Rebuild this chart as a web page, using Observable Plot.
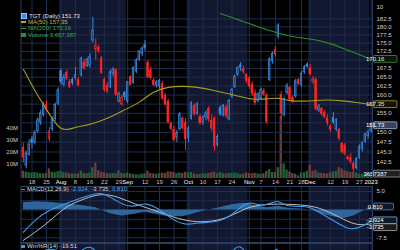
<!DOCTYPE html>
<html><head><meta charset="utf-8">
<script src="https://cdn.jsdelivr.net/npm/d3@7"></script>
<script src="https://cdn.jsdelivr.net/npm/@observablehq/plot@0.6"></script>
<style>
html,body{margin:0;padding:0;background:#000;}
#chart{position:relative;width:400px;height:250px;overflow:hidden;background:#000;font-family:"Liberation Sans",Arial,sans-serif;}
#chart > svg{position:absolute;left:0;}
.lg{position:absolute;left:21px;font-size:6px;white-space:nowrap;color:#dcdcdc;}
.row{display:flex;align-items:center;height:6.4px;gap:2px;}
</style></head><body><div id="chart"></div>
<script>
// ---------------- data ----------------
const dates = [
"2022-07-13","2022-07-14","2022-07-15","2022-07-18","2022-07-19","2022-07-20","2022-07-21","2022-07-22","2022-07-25","2022-07-26","2022-07-27","2022-07-28","2022-07-29",
"2022-08-01","2022-08-02","2022-08-03","2022-08-04","2022-08-05","2022-08-08","2022-08-09","2022-08-10","2022-08-11","2022-08-12","2022-08-15","2022-08-16","2022-08-17","2022-08-18","2022-08-19","2022-08-22","2022-08-23","2022-08-24","2022-08-25","2022-08-26","2022-08-29","2022-08-30","2022-08-31",
"2022-09-01","2022-09-02","2022-09-06","2022-09-07","2022-09-08","2022-09-09","2022-09-12","2022-09-13","2022-09-14","2022-09-15","2022-09-16","2022-09-19","2022-09-20","2022-09-21","2022-09-22","2022-09-23","2022-09-26","2022-09-27","2022-09-28","2022-09-29","2022-09-30",
"2022-10-03","2022-10-04","2022-10-05","2022-10-06","2022-10-07","2022-10-10","2022-10-11","2022-10-12","2022-10-13","2022-10-14","2022-10-17","2022-10-18","2022-10-19","2022-10-20","2022-10-21","2022-10-24","2022-10-25","2022-10-26","2022-10-27","2022-10-28","2022-10-31",
"2022-11-01","2022-11-02","2022-11-03","2022-11-04","2022-11-07","2022-11-08","2022-11-09","2022-11-10","2022-11-11","2022-11-14","2022-11-15","2022-11-16","2022-11-17","2022-11-18","2022-11-21","2022-11-22","2022-11-23","2022-11-25","2022-11-28","2022-11-29","2022-11-30",
"2022-12-01","2022-12-02","2022-12-05","2022-12-06","2022-12-07","2022-12-08","2022-12-09","2022-12-12","2022-12-13","2022-12-14","2022-12-15","2022-12-16","2022-12-19","2022-12-20","2022-12-21","2022-12-22","2022-12-23","2022-12-27","2022-12-28","2022-12-29","2022-12-30",
"2023-01-03"];

const open = [
146.0,141.6,144.3,148.2,147.4,150.3,152.6,154.6,157.2,148.3,150.8,153.5,157.6,
166.7,162.9,166.2,163.6,164.2,164.8,164.2,165.6,169.2,168.2,168.4,175.8,173.2,173.6,170.4,164.2,162.6,162.2,166.0,167.0,158.2,157.4,160.6,
158.2,165.0,163.4,166.6,170.0,171.8,174.4,169.2,167.0,164.0,162.6,162.4,163.0,159.8,158.2,152.2,150.6,148.6,150.8,153.6,152.4,
148.6,153.6,157.0,155.0,154.0,152.6,154.0,156.2,153.0,153.6,146.8,156.4,154.6,156.6,153.4,159.6,162.2,165.8,168.4,167.4,165.6,
164.6,162.8,160.4,158.4,159.0,161.0,159.8,164.2,169.6,172.9,177.0,160.0,154.6,160.6,162.0,159.2,159.6,164.2,162.8,166.4,168.6,
167.6,163.6,164.2,155.8,156.2,155.2,153.6,151.4,153.8,150.8,150.6,147.0,146.6,143.6,143.4,142.0,141.0,143.6,145.8,147.6,149.0,
150.4];
const high = [
147.2,145.2,148.0,148.9,150.4,153.8,155.8,158.0,158.4,151.2,154.0,157.8,162.0,
167.4,165.8,167.0,164.4,164.8,167.8,165.0,170.8,170.2,170.6,171.8,183.0,176.3,174.4,171.0,164.8,163.4,167.0,167.8,167.4,160.8,160.0,161.0,
163.8,165.4,168.0,170.4,172.8,173.8,175.8,169.8,168.0,164.6,164.0,164.4,163.8,160.4,158.8,152.8,151.6,150.6,155.2,154.0,153.6,
151.4,158.2,157.6,158.0,154.6,154.4,155.6,156.8,154.6,154.2,149.4,157.0,157.4,157.2,158.8,161.8,165.6,168.0,169.2,168.2,166.0,
165.2,163.6,161.4,160.6,162.0,161.8,160.4,170.6,172.4,174.0,181.0,161.0,159.4,163.2,162.4,159.8,164.4,164.6,166.6,168.4,169.2,
168.6,165.2,164.8,157.4,156.6,155.8,154.6,152.0,155.2,153.6,151.0,147.4,147.2,144.2,144.6,142.6,143.6,146.8,147.6,149.8,150.6,
152.6];
const low = [
142.3,140.8,143.9,145.8,146.8,149.8,151.8,154.0,155.2,147.6,150.2,152.8,157.0,
162.8,162.2,164.0,161.8,162.6,164.2,162.2,165.0,167.0,167.8,167.6,175.0,169.9,172.0,165.8,160.8,160.4,161.8,165.0,159.6,157.8,157.0,158.5,
157.6,162.6,163.0,166.0,169.6,171.0,172.6,164.6,164.2,162.4,162.0,161.6,158.6,157.0,152.2,150.4,147.6,147.4,150.4,150.6,145.3,
147.4,153.2,154.2,154.4,151.8,151.8,153.0,152.6,150.2,145.2,146.2,154.2,154.0,153.6,153.0,159.0,161.8,165.2,166.6,165.8,163.2,
161.6,159.6,157.2,157.8,158.6,159.6,152.0,163.8,168.8,170.8,176.2,153.6,154.0,160.0,158.4,157.6,159.2,162.6,162.2,165.8,167.6,
165.4,163.0,155.6,155.2,154.2,153.6,151.6,150.0,152.0,150.2,147.8,144.4,144.0,142.8,142.0,140.2,140.6,143.2,145.0,147.2,148.2,
149.8];
const close = [
143.6,144.6,146.9,147.3,150.0,153.2,155.0,157.2,156.0,150.2,153.4,157.3,161.3,
163.7,164.9,164.6,162.3,163.3,165.6,162.8,170.4,167.6,170.0,170.8,178.8,174.2,172.7,166.2,161.4,161.0,166.4,167.2,160.1,160.3,159.2,159.5,
163.6,162.8,167.6,169.8,172.5,173.4,173.6,165.0,164.8,162.8,163.6,164.0,159.0,157.4,152.6,150.9,148.0,149.8,154.6,151.0,148.2,
151.0,157.6,154.8,157.4,152.4,153.8,155.0,153.4,151.0,146.4,148.8,154.8,157.0,154.4,158.4,161.4,165.2,167.6,167.8,166.6,164.0,
162.4,160.4,157.8,160.2,161.4,160.2,152.8,170.2,171.8,171.6,180.4,155.0,158.8,162.6,158.8,158.2,163.8,163.0,166.0,167.8,168.0,
165.8,164.4,156.2,156.8,154.8,154.0,152.4,150.6,152.6,153.2,148.4,145.0,144.6,143.2,142.6,140.8,143.2,146.2,147.2,149.4,150.0,
151.73];
// volume, millions of shares
const volume = [
6.2,5.4,4.8,4.6,5.0,4.4,4.0,3.8,4.2,8.0,5.2,4.8,5.6,
6.0,5.0,4.6,4.0,3.8,3.6,3.8,6.2,4.2,4.0,4.4,9.0,13.0,6.4,5.2,4.8,4.0,3.8,4.2,4.0,6.4,4.2,3.8,
4.6,3.8,3.4,3.2,3.0,3.6,4.0,6.2,4.2,3.8,3.6,4.0,4.4,4.2,5.6,5.4,5.0,4.0,4.6,4.2,5.2,
4.6,5.0,3.8,3.2,3.4,4.0,3.8,4.2,4.8,5.2,4.0,5.0,4.2,3.8,4.4,4.2,4.6,4.0,3.4,3.6,4.8,
4.2,4.0,4.4,3.8,3.6,4.0,6.0,7.4,5.0,5.2,9.0,52.0,12.0,7.0,5.4,4.2,3.6,2.2,4.6,4.8,6.0,
11.0,6.0,6.8,4.6,4.2,4.0,3.8,5.0,5.4,6.0,9.0,8.0,6.4,5.6,5.0,5.4,4.6,3.6,3.4,3.6,3.8,
3.657387];

const ma50At  = [0,4,8,13,18,22,27,32,36,40,45,50,55,60,65,70,75,79,84,88,92,97,101,105,110,115,120];
const ma50Val = [167.3,161.1,156.1,149.7,151.5,151.8,153.0,154.7,156.4,157.8,161.1,162.3,162.5,162.2,161.4,160.5,159.6,158.7,158.9,159.3,158.3,158.3,158.5,158.7,158.4,158.0,157.35];
const ma200At  = [68,72,76,80,85,90,95,100,105,110,115,120];
const ma200Val = [184.2,183.0,181.6,180.4,178.8,177.5,176.7,176.2,175.2,173.6,171.9,170.16];

const macdAt  = [0,5,9,13,19,25,27,32,36,40,42,47,51,56,60,67,72,76,79,83,88,90,97,99,104,109,113,117,120];
const macdVal = [-6.0,-2.0,0.0,1.2,3.1,4.4,4.7,2.6,0.8,1.2,2.0,0.3,-2.4,-4.2,-3.4,-3.3,-1.5,1.7,2.1,0.8,3.0,0.9,1.0,0.8,-1.5,-3.8,-5.5,-4.5,-2.924];
const sigAt  = [0,5,10,15,21,27,33,38,44,50,57,63,70,76,81,88,96,102,109,115,120];
const sigVal = [-8.2,-5.5,-2.4,1.2,3.0,4.6,3.5,1.7,0.3,-1.5,-3.1,-3.3,-2.4,0.3,1.4,1.7,1.4,0.8,-1.9,-4.3,-3.735];
const histAt  = [0,5,10,15,20,25,27,30,34,38,42,46,50,55,58,62,64,67,72,76,80,84,88,92,96,100,104,108,111,114,117,120];
const histVal = [2.0,2.2,2.0,1.6,1.2,0.6,0,-1.0,-1.6,-1.2,-0.6,-1.2,-1.8,-1.8,-1.2,-0.3,0,0.5,1.4,1.8,1.2,0.6,1.0,0.4,0.3,-0.2,-1.2,-2.0,-2.2,-1.6,-0.4,0.81];
const wrAt  = [0,4,8,12,14,17,20,24,27,30,33,36,41,43,48,52,56,58,62,66,70,73,75,78,80,84,86,88,90,94,98,101,106,110,114,118,120];
const wrVal = [-70,-30,-10,-15,-25,-40,-12,-3,-40,-70,-75,-45,-5,-55,-80,-95,-90,-50,-70,-92,-40,-8,-4,-30,-60,-90,-20,-3,-70,-45,-15,-70,-75,-92,-96,-45,-19.51];

const tickDates  = ["2022-07-18","2022-07-25","2022-08-01","2022-08-08","2022-08-15","2022-08-22","2022-08-29","2022-09-01","2022-09-12","2022-09-19","2022-09-26","2022-10-03","2022-10-10","2022-10-17","2022-10-24","2022-11-01","2022-11-07","2022-11-14","2022-11-21","2022-11-28","2022-12-01","2022-12-12","2022-12-19","2022-12-27","2023-01-03"];
const tickLabels = ["18","25","Aug","8","16","22","29","Sep","12","19","26","Oct","10","17","24","Nov","7","14","21","28","Dec","12","19","27","2023"];
const priceTicks = [142.5,145,147.5,150,152.5,155,157.5,160,162.5,165,167.5,170,172.5,175,177.5,180,182.5];
const volTicks = [10,20,30,40];
const macdTicks = [5,2.5,0,-2.5,-5,-7.5];
const shadedMonths = ["2022-08","2022-10","2022-12"];
const cornerText = ["10"];

// ---------------- build ----------------
const root = document.getElementById("chart");
const XD = [-0.8, 120.5];
const ML = 20.5, MR = 28;
const GRID = "#1d2e50", NAVY = "#131831", EDGE = "#2a3c60";
const BLUE = "#3a8ae2", RED = "#ff2424", VG = "#22643a", VR = "#6e3e3e";
const FONT = "Liberation Sans, Arial, sans-serif";
const PRICE_D = [138.5, 188.4], MACD_D = [-8.77, 6.35];
const PRICE_H = 178, MACD_H = 56;

const last = a => a[a.length - 1];
const candles = dates.map((d, i) => ({
  i, date: d, open: open[i], high: high[i], low: low[i], close: close[i], volume: volume[i],
  up: i === 0 ? false : close[i] >= close[i - 1], hollow: close[i] >= open[i]
}));
const pairs = (at, val) => at.map((i, k) => ({i, v: val[k]}));
const ma50 = pairs(ma50At, ma50Val), ma200 = pairs(ma200At, ma200Val);
const macd = pairs(macdAt, macdVal), sig = pairs(sigAt, sigVal), hist = pairs(histAt, histVal), wr = pairs(wrAt, wrVal);
const ticks = tickDates.map((d, k) => ({i: dates.indexOf(d), label: tickLabels[k], bold: /^[A-Z]|^\d{4}$/.test(tickLabels[k])}));
const bands = shadedMonths.map(m => {
  const idx = dates.map((d, i) => d.startsWith(m) ? i : -1).filter(i => i >= 0);
  return {x1: idx[0] - 0.5, x2: idx[idx.length - 1] + 0.5};
});
const bg = () => [
  Plot.rect(bands, {x1: "x1", x2: "x2", fill: NAVY}),
  Plot.ruleX(ticks, {x: "i", stroke: GRID})
];
const baseStyle = {background: "transparent", color: "#d2d2d2", fontFamily: FONT, fontSize: "6px", overflow: "visible"};
const fmt1 = d => d.toFixed(1);

// value tags: positions from the scales, stacked so they do not collide
function layoutTags(scale, list) {
  let prev = -1e9;
  return list.map(t => { let y = scale.apply(t.value); if (y < prev + 6.8) y = prev + 6.8; prev = y; return {...t, y}; });
}
const priceScale = Plot.scale({y: {type: "log", domain: PRICE_D, range: [PRICE_H, 0]}});
const macdScale = Plot.scale({y: {domain: MACD_D, range: [MACD_H, 0]}});
const priceTags = layoutTags(priceScale, [
  {value: last(ma200Val), text: last(ma200Val).toFixed(2), border: "#3a9a3a", fill: "#0a140a", color: "#e6e6e6"},
  {value: last(ma50Val), text: last(ma50Val).toFixed(2), border: "#b0a428", fill: "#141308", color: "#e6e6e6"},
  {value: last(close), text: last(close).toFixed(2), border: "#a8b8d0", fill: "#34435e", color: "#ffffff"}
]);
const macdTags = layoutTags(macdScale, [
  {value: last(histVal), text: last(histVal).toFixed(3), border: "#3c8ad8", fill: "#0d1a2c", color: "#ffffff"},
  {value: last(macdVal), text: last(macdVal).toFixed(3), border: "#7fb8f0", fill: "#0d1a2c", color: "#ffffff"},
  {value: last(sigVal), text: last(sigVal).toFixed(3), border: "#b0b0b0", fill: "#1a1a1a", color: "#ffffff"}
]);
const visible = (scale, tks, tags) => tks.filter(t => tags.every(g => Math.abs(scale.apply(t) - g.y) > 6.5));

function place(svg, top) { svg.style.top = top + "px"; root.appendChild(svg); return svg; }

// volume layer (bottom) with month shading and vertical grid
const volPlot = place(Plot.plot({
  width: 400, height: 188, marginLeft: ML, marginRight: MR, marginTop: 0, marginBottom: 10,
  style: baseStyle,
  x: {domain: XD, axis: null},
  y: {domain: [0, 178 / 1.2], axis: null},
  marks: [
    ...bg(),
    Plot.rectY(candles, {x1: d => d.i - 0.5, x2: d => d.i + 0.5, y: "volume", fill: d => d.up ? VG : VR, insetLeft: 0.3, insetRight: 0.3}),
    Plot.ruleX([XD[0]], {stroke: EDGE}),
    Plot.text(volTicks, {y: d => d, text: d => d + "M", frameAnchor: "left", dx: -3, dy: -2.5, textAnchor: "end", fill: "#cfcfcf", fontSize: 6}),
    Plot.text(ticks, {x: "i", text: "label", frameAnchor: "bottom", lineAnchor: "top", dy: 1.5, fontSize: 6,
      fontWeight: d => d.bold ? "bold" : "normal", fill: d => d.bold ? "#ffffff" : "#c4c4c4"})
  ]
}), 0);

// price layer
const pricePlot = place(Plot.plot({
  width: 400, height: PRICE_H, marginLeft: ML, marginRight: MR, marginTop: 0, marginBottom: 0,
  style: baseStyle,
  x: {domain: XD, axis: null},
  y: {type: "log", domain: PRICE_D, axis: "right", ticks: visible(priceScale, priceTicks, priceTags), tickFormat: fmt1, tickSize: 0, tickPadding: 4, label: null},
  marks: [
    Plot.ruleY(priceTicks, {stroke: GRID}),
    Plot.ruleX(candles, {x: "i", y1: "low", y2: "high", stroke: d => d.up ? BLUE : RED, strokeWidth: 1}),
    Plot.rectY(candles, {x1: d => d.i - 0.5, x2: d => d.i + 0.5, y1: "open", y2: "close",
      fill: d => d.hollow ? (d.up ? "#0d1c36" : "#2a0a0a") : (d.up ? BLUE : RED),
      stroke: d => d.up ? BLUE : RED, strokeWidth: 0.8, insetLeft: 0.75, insetRight: 0.75}),
    Plot.line(ma50, {x: "i", y: "v", stroke: "#a89c1c", strokeWidth: 1.1, curve: "basis"}),
    Plot.line(ma200, {x: "i", y: "v", stroke: "#2b8c2b", strokeWidth: 1.1, curve: "basis"}),
    Plot.ruleX([XD[1]], {stroke: EDGE}),
    Plot.text(cornerText, {frameAnchor: "top-right", dx: 4, dy: 4, textAnchor: "start", fill: "#d2d2d2", fontSize: 6})
  ]
}), 0);

// MACD panel
const macdPlot = place(Plot.plot({
  width: 400, height: MACD_H, marginLeft: ML, marginRight: MR, marginTop: 0, marginBottom: 0,
  style: baseStyle,
  x: {domain: XD, axis: null},
  y: {domain: MACD_D, axis: "right", ticks: visible(macdScale, macdTicks, macdTags), tickFormat: fmt1, tickSize: 0, tickPadding: 4, label: null},
  marks: [
    ...bg(),
    Plot.ruleY(macdTicks, {stroke: GRID}),
    Plot.areaY(hist, {x: "i", y: "v", fill: "#2f6aa3", fillOpacity: 0.95}),
    Plot.line(sig, {x: "i", y: "v", stroke: "#bfbfbf", strokeWidth: 1, curve: "basis"}),
    Plot.line(macd, {x: "i", y: "v", stroke: "#3c9cf0", strokeWidth: 1.1, curve: "basis"}),
    Plot.frame({stroke: EDGE})
  ]
}), 186);

// Williams %R panel (mostly below the visible area)
place(Plot.plot({
  width: 400, height: 46, marginLeft: ML, marginRight: MR, marginTop: 1, marginBottom: 0,
  style: baseStyle,
  x: {domain: XD, axis: null},
  y: {domain: [-100, 0], axis: null},
  marks: [
    ...bg(),
    Plot.line(wr, {x: "i", y: "v", stroke: "#3c9cf0", strokeWidth: 1.1, curve: "basis"}),
    Plot.frame({stroke: EDGE})
  ]
}), 242);

function drawTags(plot, list) {
  const g = d3.select(plot).append("g");
  list.forEach(t => {
    const w = t.text.length * 3.4 + 3;
    g.append("rect").attr("x", 373.5).attr("y", t.y - 3.4).attr("width", w).attr("height", 6.8)
      .attr("rx", 1).attr("fill", t.fill).attr("stroke", t.border).attr("stroke-width", 0.8);
    g.append("text").attr("x", 375.2).attr("y", t.y).attr("dy", "0.35em").attr("fill", t.color)
      .attr("font-size", 6).attr("font-family", FONT).text(t.text);
  });
}
drawTags(pricePlot, priceTags);
drawTags(macdPlot, macdTags);
drawTags(volPlot, layoutTags(volPlot.scale("y"), [
  {value: last(volume), text: String(Math.round(last(volume) * 1e6)), border: "#9a9a9a", fill: "#202020", color: "#ffffff"}
]));

// legends
function span(text, css) { const s = document.createElement("span"); s.textContent = text; if (css) s.style.cssText = css; return s; }
function icon(css) { const s = document.createElement("span"); s.style.cssText = "display:inline-block;" + css; return s; }
function legend(top, rows) {
  const box = document.createElement("div"); box.className = "lg"; box.style.top = top + "px";
  rows.forEach(items => { const r = document.createElement("div"); r.className = "row"; items.forEach(it => r.appendChild(it)); box.appendChild(r); });
  root.appendChild(box);
}
const fmtInt = d3.format(",");
legend(12.5, [
  [icon("width:4px;height:4px;background:#3a8ae2;border:0.5px solid #8cc0ff"), span("TGT (Daily) " + last(close).toFixed(2), "color:#e2e2e2")],
  [icon("width:5px;height:1.2px;background:#b8ac28"), span("MA(50) " + last(ma50Val).toFixed(2), "color:#c2b534")],
  [icon("width:5px;height:1.2px;background:#2f9a2f"), span("MA(200) " + last(ma200Val).toFixed(2), "color:#36a836")],
  [icon("width:5px;height:4px;background:#2a8a4a"), span("Volume " + fmtInt(Math.round(last(volume) * 1e6)), "color:#36a84e")]
]);
legend(186.2, [
  [icon("width:4px;height:1.2px;background:#3c9cf0"), span("MACD(12,26,9)", "color:#dcdcdc"),
   span(last(macdVal).toFixed(3) + ",", "color:#4aa4f4"),
   span(last(sigVal).toFixed(3) + ",", "color:#d0d0d0"),
   span(last(histVal).toFixed(3), "color:#4aa4f4")]
]);
legend(243, [
  [icon("width:4px;height:3px;background:#3c9cf0"), span("Wm%R(14)", "color:#dcdcdc"), span(last(wrVal).toFixed(2), "color:#dcdcdc")]
]);
</script></body></html>
